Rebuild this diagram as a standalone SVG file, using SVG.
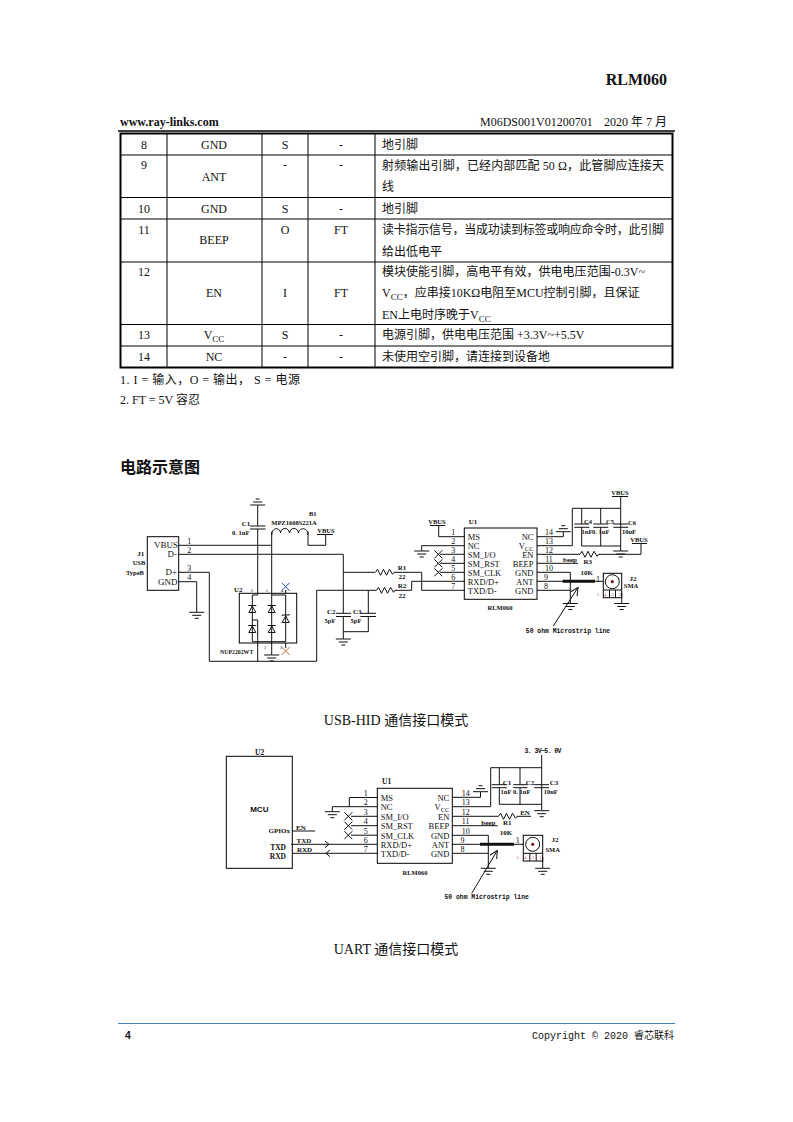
<svg xmlns="http://www.w3.org/2000/svg" xmlns:xlink="http://www.w3.org/1999/xlink" width="793" height="1122" viewBox="0 0 793 1122">
<style>
text{font-family:"Liberation Serif","Noto Sans CJK SC",serif;fill:#111}
.b{font-size:12px}
.c{text-anchor:middle}
.r{text-anchor:end}
.s{font-size:8.5px}
.l{font-size:6.5px;font-weight:bold}
.m{font-family:"Liberation Mono","Noto Sans CJK SC",monospace;font-size:6.4px;font-weight:bold}
.n{font-size:8px}
.tiny{font-size:4px}
.w,.w path,.w line,.w polyline,.w rect,.w circle{fill:none;stroke:#111;stroke-width:1}
.tb{stroke:#000;stroke-width:1;fill:none}
</style>
<defs>
<g id="gnd" class="w"><path d="M0 0H-7.5M0 0H7.5M-4.500 3H4.500M-2 6H2"/></g>
<g id="gndu" class="w"><path d="M0 0H-7.500M0 0H7.500M-4.500 -3H4.500M-2 -6H2"/></g>
<g id="res" class="w"><path d="M0 0L2 -3L5 3L8 -3L11 3L14 -3L17 2L18.500 0"/></g>
<g id="dio" class="w"><path d="M-3.500 3.500H3.500L0 -3ZM-4 -3.500H4"/></g>
<path id="xm" d="M-4 -4L4 4M4 -4L-4 4" fill="none" stroke-width="1"/>
<marker id="arr" markerWidth="10" markerHeight="10" refX="8" refY="4" orient="auto" markerUnits="userSpaceOnUse"><path d="M0 0L8 4L0 8" fill="none" stroke="#111" stroke-width="1"/></marker>
</defs>
<rect width="793" height="1122" fill="#fff"/>

<g id="page-header">
<text x="667" y="85" class="r" font-size="16" font-weight="bold">RLM060</text>
<text x="120" y="126" font-size="12" font-weight="bold">www.ray-links.com</text>
<text x="480" y="126" font-size="12">M06DS001V01200701</text>
<text x="667" y="126" class="r" font-size="12">2020 年 7 月</text>
<line x1="118" y1="131" x2="675" y2="131" stroke="#000" stroke-width="1.500"/>
</g>

<g id="pin-table">
<rect x="120.500" y="133.500" width="552" height="234" class="tb" style="stroke-width:2"/>
<path class="tb" d="M120 155H672M120 197.500H672M120 219H672M120 262H672M120 324.500H672M120 346H672M167 134V367M262 134V367M308 134V367M375 134V367"/>
<g class="b">
<text x="144" y="149" class="c">8</text><text x="214" y="149" class="c">GND</text><text x="285" y="149" class="c">S</text><text x="341" y="149" class="c">-</text><text x="382" y="149">地引脚</text>
<text x="144" y="169" class="c">9</text><text x="214" y="181" class="c">ANT</text><text x="285" y="169" class="c">-</text><text x="341" y="169" class="c">-</text><text x="382" y="170" textLength="282">射频输出引脚，已经内部匹配 50 Ω，此管脚应连接天</text><text x="382" y="191">线</text>
<text x="144" y="213" class="c">10</text><text x="214" y="213" class="c">GND</text><text x="285" y="213" class="c">S</text><text x="341" y="213" class="c">-</text><text x="382" y="213">地引脚</text>
<text x="144" y="234" class="c">11</text><text x="214" y="244" class="c">BEEP</text><text x="285" y="234" class="c">O</text><text x="341" y="234" class="c">FT</text><text x="382" y="234" textLength="282">读卡指示信号，当成功读到标签或响应命令时，此引脚</text><text x="382" y="256" textLength="60">给出低电平</text>
<text x="144" y="276" class="c">12</text><text x="214" y="297" class="c">EN</text><text x="285" y="297" class="c">I</text><text x="341" y="297" class="c">FT</text><text x="382" y="276" textLength="263">模块使能引脚，高电平有效，供电电压范围-0.3V~</text><text x="382" y="297">V<tspan font-size="9" dy="3">CC</tspan><tspan dy="-3">，应串接10KΩ电阻至MCU控制引脚，且保证</tspan></text><text x="382" y="319">EN上电时序晚于V<tspan font-size="9" dy="3">CC</tspan></text>
<text x="144" y="339" class="c">13</text><text x="214" y="339" class="c">V<tspan font-size="9" dy="3">CC</tspan></text><text x="285" y="339" class="c">S</text><text x="341" y="339" class="c">-</text><text x="382" y="339">电源引脚，供电电压范围 +3.3V~+5.5V</text>
<text x="144" y="361" class="c">14</text><text x="214" y="361" class="c">NC</text><text x="285" y="361" class="c">-</text><text x="341" y="361" class="c">-</text><text x="382" y="361">未使用空引脚，请连接到设备地</text>
</g>
</g>

<g id="notes" class="b">
<text x="120" y="384" textLength="180">1. I = 输入，O = 输出， S = 电源</text>
<text x="120" y="404">2. FT = 5V 容忍</text>
<text x="120" y="473" font-size="16" font-weight="bold" style="font-size:16px">电路示意图</text>
<text x="396" y="725" class="c" style="font-size:14px">USB-HID 通信接口模式</text>
<text x="396" y="954" class="c" style="font-size:14px">UART 通信接口模式</text>
</g>

<g id="connectors" class="w">
<!-- USB circuit -->
<path d="M178.700 545.300H271.700V531.700M308 531.700V545.300H325.700V534.500"/>
<path d="M271.700 545.300V641.700M271.700 641.700V655"/>
<path d="M178.700 554.300H343.300V613.300M343.300 572.300H375M343.300 616.500V639M343.300 631.700H368.300V616.500M368.300 613.300V590.300"/>
<path d="M178.700 572.300H209.300V661.300H316.700V590.300H376.500"/>
<path d="M178.700 581.700H196.700V612.300"/>
<path d="M257.700 505V526M257.700 529V595H252.300V641.700H285.700V595H271.700M252.300 620H257.700V661.300"/>
<path d="M285.700 590V593.300M285.700 643V648"/>
<path d="M394 572.300H421.700V590.300H464.300M394.500 590.300H411.700V581.300H464.300"/>
<path d="M448 536.700H438.700V526M464.300 536.700H448M464.300 545.700H421.700V551M440 554.300H464.300M440 563.300H464.300M440 572.300H464.300"/>
<path d="M537 536.700H563.300V531.700M537 545.700H572.300V508.300H620.700M620.700 497V551M581.700 508.300V524M581.700 527.300V546H620.700M600.700 508.300V524M600.700 527.300V546"/>
<path d="M537 554.300H580M598.500 554.300H641V544M537 563.300H578"/>
<path d="M537 572.300H570.300V603.500M537 590.300H570.300M537 581.300H603.300"/>
<path d="M562.700 581.300H595" style="stroke-width:3"/>
<path d="M621.700 593V603.500"/>
<path d="M553.300 626L578 587.500" marker-end="url(#arr)"/>
<!-- UART circuit -->
<path d="M292.300 831H315M291 844.300H377.300M292 853.300H377.300"/>
<path d="M349.300 797.500V806.700M349.300 797.500H377.300M332.300 811.700V806.700H377.300M351 816.300H377.300M351 825.700H377.300M351 835.200H377.300"/>
<path d="M452.300 797.300H480.500V791.700M452.300 806.700H490.700V767.700H541.700M541.700 755V810.700M499.300 767.700V784.700M499.300 787.700V804.300H541.700M520 767.700V784.700M520 787.700V804.300"/>
<path d="M452.300 816.300H498.500M517 816.300H531M452.300 825.700H497.700"/>
<path d="M452.300 835.300H488.300V868.300M452.300 853.300H488.300M452.300 844.300H523.300"/>
<path d="M480 844.300H514" style="stroke-width:3"/>
<path d="M542.700 857V868.300"/>
<path d="M471.700 893.300L497.300 850.500" marker-end="url(#arr)"/>
<path d="M325 841L329 844.300L325 847.600M330 850L326 853.300L330 856.600"/>
</g>

<g id="J1">
<rect x="147.300" y="536.700" width="31.400" height="53.600" class="tb"/>
<text x="178" y="548" class="r" style="font-size:9px">VBUS</text><text x="177" y="557" class="r" style="font-size:9px">D-</text><text x="177" y="575" class="r" style="font-size:9px">D+</text><text x="177.500" y="584.500" class="r" style="font-size:9px">GND</text>
<g class="n c"><text x="189.300" y="544">1</text><text x="189.300" y="553">2</text><text x="189.300" y="571">3</text><text x="189.300" y="580">4</text></g>
<g class="l c"><text x="140.700" y="556" style="font-size:7px">J1</text><text x="139" y="564.500">USB</text><text x="135" y="574.500">TypeB</text></g>
</g>

<g id="C1"><use href="#gndu" x="257.700" y="505"/><path class="w" d="M250 526H265.500M250 529H265.500"/><text x="246" y="525.500" class="c l" style="font-size:7px">C1</text><text x="240.700" y="535" class="c l">0. 1uF</text></g>

<g id="B1"><path class="w" d="M271.700 535C271.700 527 280 527 280.500 533C281 527 289 527 289.500 533C290 527 298 527 298.500 533C299 527 308 527 308 535"/><text x="312.700" y="515.500" class="c l">B1</text><text x="294" y="524.500" class="c l">MPZ1608S221A</text><text x="326" y="533" class="c l">VBUS</text><line class="w" x1="317" y1="534.500" x2="333" y2="534.500"/></g>

<g id="U2">
<rect x="239.300" y="593.300" width="57.400" height="49.700" class="tb"/>
<use href="#dio" x="252.300" y="609"/><use href="#dio" x="252.300" y="629"/><use href="#dio" x="271.700" y="609"/><use href="#dio" x="271.700" y="629"/>
<path class="w" d="M282 616L282.500 615H285.700L289 615L289.500 614M282.200 622.500H289.200L285.700 616Z"/>
<use href="#xm" x="285.700" y="586.700" stroke="#2c50a0"/><use href="#xm" x="285.700" y="651" stroke="#c0703a"/>
<use href="#gnd" x="271.700" y="655"/>
<text x="238.300" y="592" class="c l" style="font-size:7px">U2</text>
<text x="236.700" y="654" class="c l" style="font-size:5.800px">NUP2202WT</text>
<g class="tiny"><text x="252" y="592" class="c">6</text><text x="266.700" y="592" class="c">5</text><text x="282" y="592" class="c">4</text><text x="265" y="649" class="c">2</text><text x="281" y="649" class="c">3</text></g>
</g>

<g id="C2"><path class="w" d="M336 613.300H351M336 616.500H351"/><text x="331.300" y="613.500" class="c l" style="font-size:7px">C2</text><text x="330" y="622.500" class="c l">5pF</text></g>
<g id="C3"><path class="w" d="M360.500 613.300H376M360.500 616.500H376"/><text x="357.300" y="613.500" class="c l" style="font-size:7px">C3</text><text x="356" y="622.500" class="c l">5pF</text></g>
<use id="gnd-c2" href="#gnd" x="343.300" y="639"/>
<use id="gnd-j1" href="#gnd" x="196.700" y="612.300"/>

<g id="R1"><use href="#res" x="375.500" y="572.300"/><text x="402" y="569.500" class="c l" style="font-size:7px">R1</text><text x="402" y="578.500" class="c l" style="font-size:7px">22</text></g>
<g id="R2"><use href="#res" x="376.500" y="590.300"/><text x="402" y="587.500" class="c l" style="font-size:7px">R2</text><text x="402" y="597.500" class="c l" style="font-size:7px">22</text></g>

<g id="U1a">
<rect x="464.300" y="528" width="72.700" height="71.300" class="tb"/>
<text x="473" y="523.500" class="c l" style="font-size:7px">U1</text>
<g class="s"><text x="467.700" y="540">MS</text><text x="467.700" y="549">NC</text><text x="467.700" y="558">SM_I/O</text><text x="467.700" y="567">SM_RST</text><text x="467.700" y="576">SM_CLK</text><text x="467.700" y="585">RXD/D+</text><text x="467.700" y="594">TXD/D-</text>
<text x="533.500" y="540" class="r">NC</text><text x="533.500" y="549" class="r">V<tspan font-size="6.500" dy="2">CC</tspan></text><text x="533.500" y="558" class="r">EN</text><text x="533.500" y="567" class="r">BEEP</text><text x="533.500" y="576" class="r">GND</text><text x="533.500" y="585" class="r">ANT</text><text x="533.500" y="594" class="r">GND</text></g>
<g class="n c"><text x="453.300" y="535">1</text><text x="453.300" y="544">2</text><text x="453.300" y="552.500">3</text><text x="453.300" y="561.500">4</text><text x="453.300" y="570.500">5</text><text x="453.300" y="579.500">6</text><text x="453.300" y="588.500">7</text>
<text x="549" y="535">14</text><text x="549" y="544">13</text><text x="549" y="552.500">12</text><text x="549" y="561.500">11</text><text x="549" y="570.500">10</text><text x="546" y="579.500">9</text><text x="546" y="588.500">8</text></g>
<text x="500" y="609.500" class="c l">RLM060</text>
<use href="#xm" x="438.300" y="554.300" stroke="#111"/><use href="#xm" x="438.300" y="563.300" stroke="#111"/><use href="#xm" x="438.300" y="572.300" stroke="#111"/>
<use href="#gnd" x="421.700" y="551"/><use href="#gndu" x="563.300" y="531.700"/><use href="#gnd" x="620.700" y="551"/><use href="#gnd" x="570.300" y="603.500"/><use href="#gnd" x="621.700" y="603.500"/>
<text x="437" y="523.500" class="c l">VBUS</text><line class="w" x1="430" y1="525.500" x2="445" y2="525.500"/>
<text x="620" y="495" class="c l">VBUS</text><line class="w" x1="612" y1="496.500" x2="628" y2="496.500"/>
<text x="639" y="542" class="c l">VBUS</text><line class="w" x1="632" y1="543.500" x2="647" y2="543.500"/>
</g>

<g id="C4-C6">
<path class="w" d="M574.300 524H589.300M574.300 527.300H589.300M593.300 524H608.300M593.300 527.300H608.300M613.300 524H628.300M613.300 527.300H628.300"/>
<text x="588" y="523.500" class="c l">C4</text><text x="587" y="534" class="c l">1nF</text><text x="610" y="523.500" class="c l">C5</text><text x="600.700" y="534" class="c l">0. 1uF</text><text x="632" y="524.500" class="c l">C6</text><text x="629" y="534" class="c l">10uF</text>
</g>
<g id="R3"><use href="#res" x="580" y="554.300"/><text x="570" y="562" class="c l" style="font-size:7px">beep</text><text x="587.700" y="563.500" class="c l" style="font-size:7px">R3</text><text x="586.700" y="574.500" class="c l" style="font-size:7px">10K</text></g>
<g id="J2a">
<rect x="603.300" y="573.300" width="18.400" height="24.400" class="tb"/><path class="w" d="M603.300 590H621.700M609.500 590V597.700M615.500 590V597.700"/>
<circle class="w" cx="612.300" cy="581.700" r="7"/><circle cx="612.300" cy="581.700" r="1.600" fill="#7a1020"/>
<text x="598" y="581.500" class="c n">1</text><text x="633" y="580.500" class="c l" style="font-size:7px">J2</text><text x="631" y="587.500" class="c l">SMA</text>
<text x="597" y="595.500" class="tiny" textLength="24" style="fill:#933">5 4 3 2</text>
</g>
<text id="ms-a" x="568" y="632.500" class="c m">50 ohm Microstrip line</text>

<g id="U2b">
<rect x="226.300" y="756.300" width="66" height="112" class="tb"/>
<text x="259.700" y="754.500" class="c l" style="font-size:7.500px">U2</text>
<text x="259.300" y="812" class="c" style="font-family:'Liberation Sans',sans-serif;font-size:8px;font-weight:bold">MCU</text>
<g class="l"><text x="290" y="833" class="r" style="font-size:7px">GPIOx</text><text x="286" y="849.500" class="r" style="font-size:7.500px">TXD</text><text x="286" y="859" class="r" style="font-size:7.500px">RXD</text><text x="296" y="830" style="font-size:7px">EN</text><text x="296.500" y="843" style="font-size:7px">TXD</text><text x="297" y="852" style="font-size:7px">RXD</text></g>
</g>
<g id="U1b">
<rect x="377.300" y="788.300" width="75" height="75" class="tb"/>
<text x="386.700" y="784" class="c l" style="font-size:7.500px">U1</text>
<g class="s"><text x="380.700" y="800.500">MS</text><text x="380.700" y="810">NC</text><text x="380.700" y="819.500">SM_I/O</text><text x="380.700" y="829">SM_RST</text><text x="380.700" y="838.500">SM_CLK</text><text x="380.700" y="847.500">RXD/D+</text><text x="380.700" y="856.500">TXD/D-</text>
<text x="449.300" y="800.500" class="r">NC</text><text x="449.300" y="810" class="r">V<tspan font-size="6.500" dy="2">CC</tspan></text><text x="449.300" y="819.500" class="r">EN</text><text x="449.300" y="829" class="r">BEEP</text><text x="449.300" y="838.500" class="r">GND</text><text x="449.300" y="847.500" class="r">ANT</text><text x="449.300" y="856.500" class="r">GND</text></g>
<g class="n c"><text x="365.700" y="796">1</text><text x="365.700" y="805">2</text><text x="365.700" y="814.500">3</text><text x="365.700" y="824">4</text><text x="365.700" y="833.500">5</text><text x="365.700" y="843">6</text><text x="365.700" y="852">7</text>
<text x="465.700" y="796">14</text><text x="465.700" y="805">13</text><text x="465.700" y="814.500">12</text><text x="465.700" y="824">11</text><text x="465.700" y="833.500">10</text><text x="462.500" y="843">9</text><text x="462.500" y="852">8</text></g>
<text x="415" y="875" class="c l">RLM060</text>
<use href="#xm" x="348.300" y="816.300" stroke="#111"/><use href="#xm" x="348.300" y="825.700" stroke="#111"/><use href="#xm" x="348.300" y="835.200" stroke="#111"/>
<use href="#gnd" x="332.300" y="811.700"/><use href="#gndu" x="480.500" y="791.700"/><use href="#gnd" x="541.700" y="810.700"/><use href="#gnd" x="488.300" y="868.300"/><use href="#gnd" x="542.700" y="868.300"/>
<text x="524.500" y="753" class="m" style="font-size:6.500px" textLength="37">3. 3V~5. 0V</text>
</g>
<g id="C1-C3b">
<path class="w" d="M491.700 784.700H506.700M491.700 787.700H506.700M513.300 784.700H527.300M513.300 787.700H527.300M534.300 784.700H549M534.300 787.700H549"/>
<text x="507" y="784.500" class="c l" style="font-size:7px">C1</text><text x="506" y="794" class="c l">1nF</text><text x="530" y="784.500" class="c l" style="font-size:7px">C2</text><text x="521.700" y="794" class="c l">0. 1uF</text><text x="554" y="784.500" class="c l" style="font-size:7px">C3</text><text x="550.700" y="794" class="c l">10uF</text>
</g>
<g id="R1b"><use href="#res" x="498.500" y="816.300"/><text x="525" y="814.500" class="c l" style="font-size:7px">EN</text><text x="488.300" y="824.500" class="c l" style="font-size:7px">beep</text><text x="507.300" y="825" class="c l" style="font-size:7px">R1</text><text x="506" y="834.500" class="c l" style="font-size:7px">10K</text></g>
<g id="J2b">
<rect x="523.300" y="835.300" width="19.400" height="25.700" class="tb"/><path class="w" d="M523.300 853.300H542.700M529.800 853.300V861M536.200 853.300V861"/>
<circle class="w" cx="532.700" cy="844.300" r="7"/><circle cx="532.700" cy="844.300" r="1.600" fill="#7a1020"/>
<text x="517.700" y="843" class="c n">1</text><text x="555" y="841.500" class="c l" style="font-size:7px">J2</text><text x="552.700" y="851.500" class="c l">SMA</text>
<text x="516.500" y="859" class="tiny" textLength="25" style="fill:#933">5 4 3 2</text>
</g>
<text id="ms-b" x="486.700" y="898.500" class="c m">50 ohm Microstrip line</text>

<g id="page-footer">
<line x1="118" y1="1023.500" x2="675" y2="1023.500" stroke="#4a82b8" stroke-width="1"/>
<text x="128" y="1039" style="font-family:'Liberation Sans',sans-serif;font-size:10.500px;font-weight:bold" class="c">4</text>
<text x="674" y="1039" class="r" style="font-family:'Liberation Mono','Noto Sans CJK SC',monospace;font-size:10px">Copyright © 2020 睿芯联科</text>
</g>
</svg>
